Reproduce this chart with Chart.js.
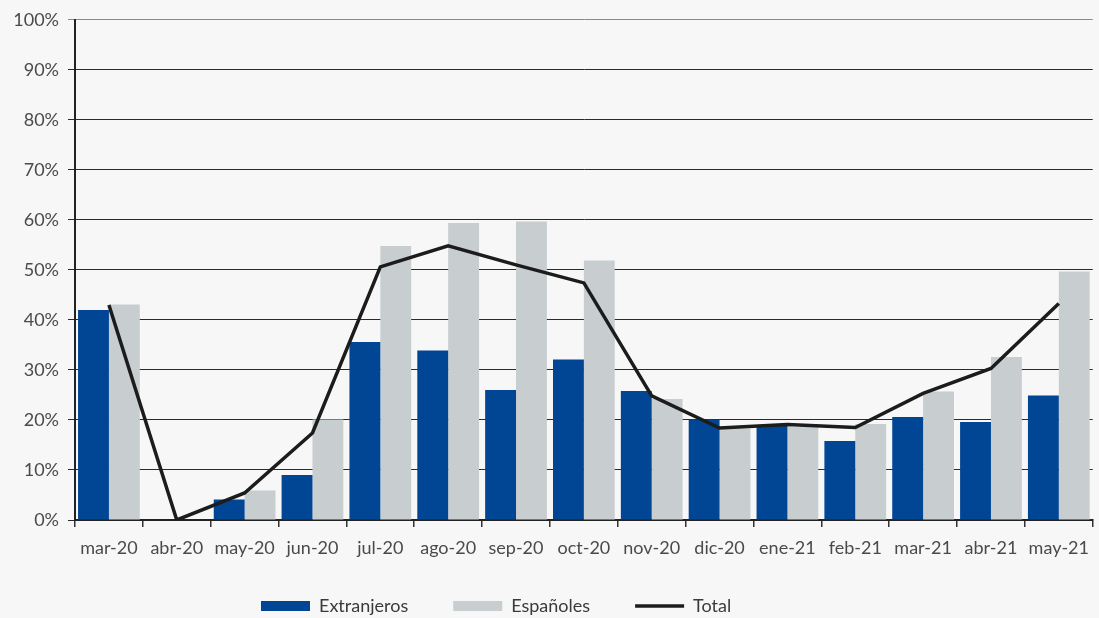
<!DOCTYPE html>
<html><head><meta charset="utf-8">
<script src="https://cdn.jsdelivr.net/npm/chart.js@4.4.0/dist/chart.umd.min.js"></script>
<style>
html,body{margin:0;padding:0;background:#f7f7f7;}
#wrap{width:1099px;height:618px;position:relative;}
</style></head><body>
<div id="wrap"><canvas id="c" width="1099" height="618"></canvas></div>
<script>
const categories = ["mar-20","abr-20","may-20","jun-20","jul-20","ago-20","sep-20","oct-20","nov-20","dic-20","ene-21","feb-21","mar-21","abr-21","may-21"];
const extranjeros = [42.0, 0, 4.1, 9.0, 35.6, 33.9, 26.0, 32.1, 25.8, 20.1, 18.8, 15.8, 20.6, 19.6, 24.9];
const espanoles   = [43.1, 0, 5.9, 20.1, 54.8, 59.4, 59.7, 51.9, 24.2, 18.3, 18.6, 19.2, 25.7, 32.6, 49.7];
const total       = [43.0, 0, 5.4, 17.4, 50.6, 54.8, 51.0, 47.4, 24.8, 18.4, 19.1, 18.5, 25.3, 30.3, 43.3];
const seriesNames = ["Extranjeros","Españoles","Total"];

const PLOT_BOTTOM = 520;
const layoutTweak = {
  id:'layoutTweak',
  beforeLayout(chart){
    const lg = chart.legend;
    if (lg && !lg._fixed) {
      const orig = lg.fit.bind(lg);
      lg.fit = function(){ orig(); this.height = 30; };
      lg._fixed = true;
    }
  },
  afterLayout(chart){
    const x = chart.scales.x;
    if (x) x.bottom = x.top + 60;
    const lg = chart.legend;
    if(!lg || !lg.lineWidths) return;
    const pad = lg.options.labels.padding;
    const start = (lg.left + pad + lg.right - lg.lineWidths[0]) / 2;
    const dx = 261 - start;
    lg.left += dx; lg.right += dx;
    lg.top = 597 - pad; lg.bottom = 618;
  }
};

Chart.defaults.font.family = "Lato, 'DejaVu Sans', sans-serif";
Chart.defaults.color = '#4a4a4a';

new Chart(document.getElementById('c'), {
  data: {
    labels: categories,
    datasets: [
      {type:'line', label: seriesNames[2], data: total, borderColor:'#1c1c1c', backgroundColor:'#1c1c1c', borderWidth:3.5, pointRadius:0, tension:0, order:0, pointStyle:'line'},
      {type:'bar', label: seriesNames[0], data: extranjeros, backgroundColor:'#014595', borderWidth:0, order:1, pointStyle:'rect', categoryPercentage:0.91, barPercentage:1},
      {type:'bar', label: seriesNames[1], data: espanoles, backgroundColor:'#c8cdd0', borderWidth:0, order:1, pointStyle:'rect', categoryPercentage:0.91, barPercentage:1}
    ]
  },
  options: {
    responsive:false,
    animation:false,
    layout:{padding:{top:19,right:0,left:0,bottom:0}},
    plugins:{
      legend:{
        position:'bottom',
        labels:{
          usePointStyle:true,
          pointStyleWidth:49,
          boxHeight:10,
          padding:45,
          color:'#3a3a3a',
          font:{size:18},
          sort:(a,b)=>{const o={Extranjeros:0,'Españoles':1,Total:2};return o[a.text]-o[b.text];}
        }
      },
      tooltip:{enabled:false}
    },
    scales:{
      x:{
        offset:true,
        grid:{offset:true, drawOnChartArea:false, drawTicks:true, tickLength:7, color:'#333', lineWidth:1.5},
        border:{color:'#222', width:2},
        ticks:{font:{size:18}, color:'#4a4a4a', padding:10, maxRotation:0, autoSkip:false},
        afterFit(s){ s.height = 618 - PLOT_BOTTOM - 30; }
      },
      y:{
        min:0, max:100,
        grid:{color:(c)=> c.tick && c.tick.value===100 ? '#8a8a8a' : '#2a2a2a', lineWidth:1, tickLength:7, drawTicks:true},
        border:{color:'#222', width:2},
        ticks:{stepSize:10, font:{size:18}, color:'#4a4a4a', padding:9, callback:(v)=>v+'%'},
        afterFit(s){ s.width = 75; }
      }
    }
  },
  plugins:[layoutTweak]
});
</script>
</body></html>
